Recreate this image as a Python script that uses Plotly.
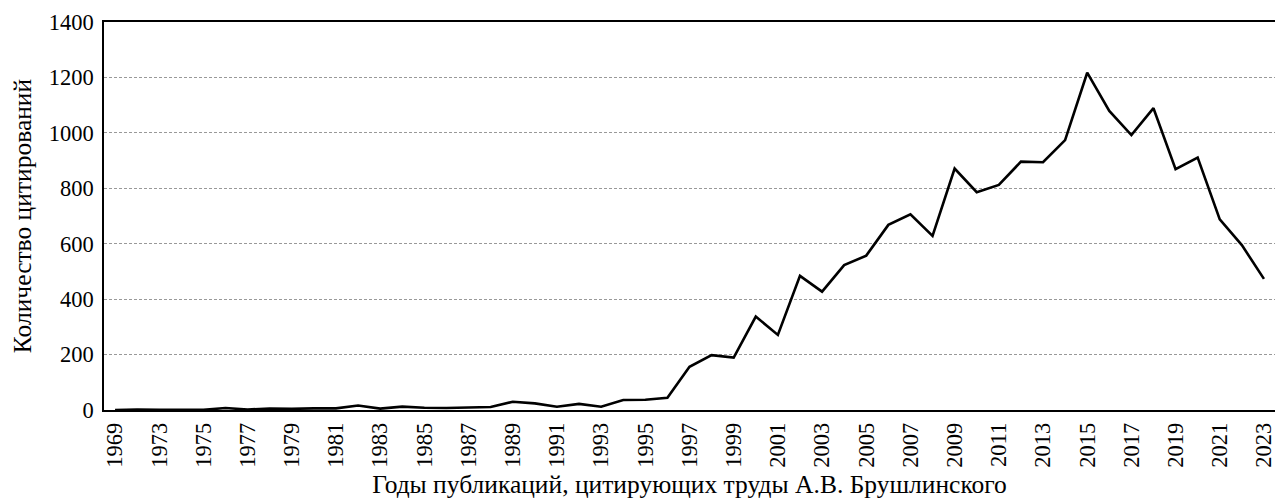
import plotly.graph_objects as go

years = ["1969", "1971", "1973", "1974", "1975", "1976", "1977", "1978", "1979", "1980",
         "1981", "1982", "1983", "1984", "1985", "1986", "1987", "1988", "1989", "1990",
         "1991", "1992", "1993", "1994", "1995", "1996", "1997", "1998", "1999", "2000",
         "2001", "2002", "2003", "2004", "2005", "2006", "2007", "2008", "2009", "2010",
         "2011", "2012", "2013", "2014", "2015", "2016", "2017", "2018", "2019", "2020",
         "2021", "2022", "2023"]
citations = [0, 2, 1, 1, 1, 7, 2, 5, 4, 6,
             6, 16, 5, 12, 8, 7, 9, 11, 30, 24,
             12, 22, 12, 36, 37, 44, 156, 198, 189, 337,
             271, 484, 427, 523, 557, 668, 706, 628, 871, 786,
             812, 896, 894, 974, 1217, 1079, 992, 1089, 869, 911,
             688, 595, 473]
tick_labels = years[0::2]
y_ticks = [0, 200, 400, 600, 800, 1000, 1200, 1400]

FONT = "Liberation Serif"

fig = go.Figure()
fig.add_trace(go.Scatter(
    x=years, y=citations, mode="lines",
    line=dict(color="black", width=2.6),
    showlegend=False,
))

fig.update_layout(
    width=1276, height=499,
    margin=dict(l=104, r=1, t=22, b=89),
    paper_bgcolor="white", plot_bgcolor="white",
    font=dict(family=FONT, color="black", size=22),
)
fig.update_xaxes(
    type="category",
    categoryorder="array", categoryarray=years,
    range=[-0.5, len(years) - 0.5],
    tickmode="array", tickvals=tick_labels, ticktext=tick_labels,
    tickangle=-90,
    tickfont=dict(family=FONT, size=22.5, color="black"),
    ticklabelstandoff=2,
    showline=True, linecolor="black", linewidth=1.5, mirror=True,
    showgrid=False, ticks="",
    title=dict(text="Годы публикаций, цитирующих труды А.В. Брушлинского",
               font=dict(family=FONT, size=25.5, color="black"), standoff=12),
    automargin=False,
)
fig.update_yaxes(
    range=[0, 1400],
    tickmode="array", tickvals=y_ticks,
    tickfont=dict(family=FONT, size=22.5, color="black"),
    showline=True, linecolor="black", linewidth=1.5,
    showgrid=True, gridcolor="#999999", gridwidth=1, griddash="3px,2px",
    zeroline=False, ticks="",
    ticklabelstandoff=4,
    title=dict(text="Количество цитирований",
               font=dict(family=FONT, size=25.5, color="black"), standoff=10),
    automargin=False,
)

fig.write_html("out.html",
               config={"displayModeBar": False},
               post_script="document.body.style.margin='0px';document.body.style.overflow='hidden';")
